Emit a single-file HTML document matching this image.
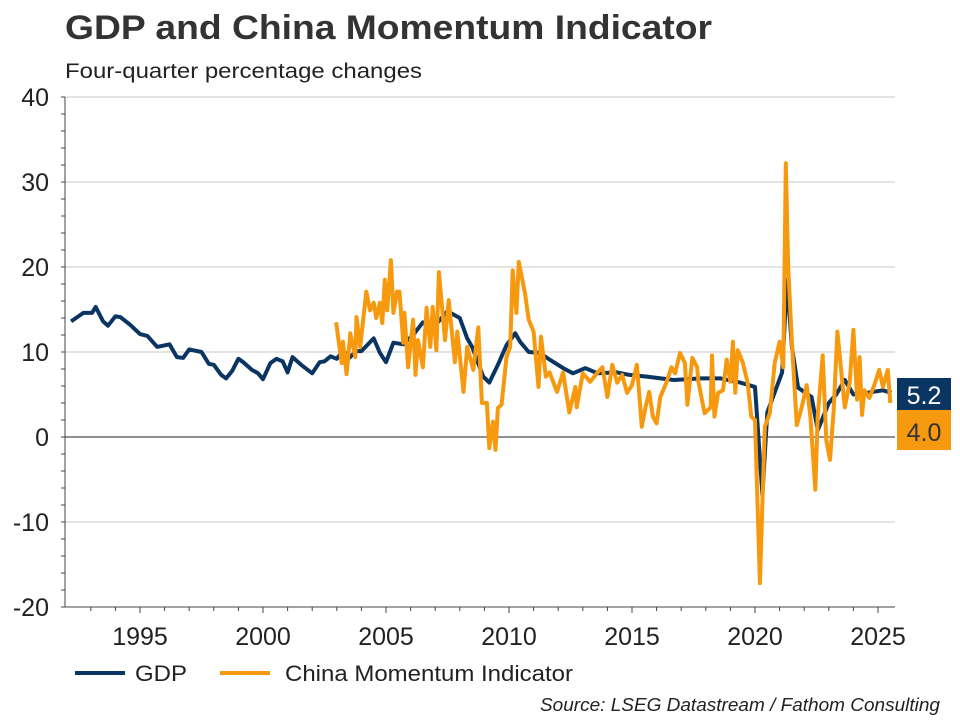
<!DOCTYPE html>
<html><head><meta charset="utf-8"><style>
body{margin:0;background:#fff;font-family:"Liberation Sans",Arial,sans-serif}
svg{display:block}
</style></head><body>
<svg width="960" height="720" viewBox="0 0 960 720">
<text x="65" y="39" font-size="34" font-weight="bold" fill="#333" textLength="647" lengthAdjust="spacingAndGlyphs">GDP and China Momentum Indicator</text>
<text x="65" y="78" font-size="21" fill="#222" textLength="357" lengthAdjust="spacingAndGlyphs">Four-quarter percentage changes</text>
<g id="grid"></g><g id="axes"></g><g id="series"></g><g id="labels"></g>
<g>
<line x1="75" y1="673" x2="125" y2="673" stroke="#0a3562" stroke-width="4"/>
<text x="135" y="681" font-size="22" fill="#222" textLength="52" lengthAdjust="spacingAndGlyphs">GDP</text>
<line x1="220" y1="673" x2="270" y2="673" stroke="#f7990e" stroke-width="4"/>
<text x="285" y="681" font-size="22" fill="#222" textLength="288" lengthAdjust="spacingAndGlyphs">China Momentum Indicator</text>
</g>
<text x="940" y="711" font-size="18" font-style="italic" text-anchor="end" fill="#222" textLength="400" lengthAdjust="spacingAndGlyphs">Source: LSEG Datastream / Fathom Consulting</text>
</svg>
<script>
const yTicks=[-20,-10,0,10,20,30,40];
const xTicks=[1995,2000,2005,2010,2015,2020,2025];
const gdpDates=[1992.2,1992.7,1993.05,1993.2,1993.5,1993.7,1994.0,1994.2,1994.6,1995.0,1995.3,1995.7,1996.2,1996.5,1996.75,1997.0,1997.5,1997.8,1998.0,1998.3,1998.5,1998.75,1999.0,1999.2,1999.55,1999.8,2000.0,2000.3,2000.55,2000.8,2001.0,2001.2,2001.55,2002.0,2002.3,2002.5,2002.75,2003.0,2003.25,2003.5,2003.8,2004.0,2004.5,2004.75,2005.0,2005.3,2005.7,2006.1,2006.5,2006.9,2007.2,2007.5,2008.0,2008.3,2008.5,2008.95,2009.2,2009.55,2009.9,2010.25,2010.45,2010.8,2011.25,2011.65,2012.2,2012.6,2013.1,2013.6,2014.4,2014.9,2015.6,2016.7,2017.8,2018.6,2019.4,2020.0,2020.3,2020.5,2021.1,2021.3,2021.5,2021.75,2022.3,2022.55,2023.0,2023.3,2023.65,2024.0,2024.55,2025.2,2025.55];
const gdpValues=[13.6,14.6,14.6,15.3,13.6,13.1,14.2,14.1,13.2,12.1,11.9,10.6,10.9,9.4,9.3,10.3,10.0,8.6,8.5,7.3,6.9,7.8,9.2,8.8,7.9,7.5,6.8,8.7,9.2,8.9,7.6,9.4,8.5,7.5,8.8,8.9,9.5,9.2,10.2,9.3,10.1,10.1,11.6,9.9,8.8,11.1,10.9,12.0,13.5,12.8,13.8,14.8,14.0,11.6,10.6,7.1,6.4,8.5,10.8,12.2,11.2,10.0,9.9,9.1,8.1,7.5,8.1,7.5,7.6,7.3,7.1,6.7,6.9,6.9,6.4,5.9,-6.8,2.9,7.6,18.5,10.6,5.8,4.7,0.8,4.0,5.0,6.7,5.0,5.2,5.5,5.2];
const cmiDates=[2002.97,2003.2,2003.25,2003.4,2003.55,2003.75,2003.8,2003.95,2004.2,2004.35,2004.5,2004.6,2004.75,2004.85,2004.95,2005.05,2005.2,2005.3,2005.45,2005.55,2005.7,2005.75,2005.9,2006.1,2006.2,2006.3,2006.5,2006.65,2006.8,2006.9,2007.05,2007.15,2007.4,2007.55,2007.8,2007.9,2008.15,2008.3,2008.55,2008.75,2008.9,2009.1,2009.2,2009.35,2009.45,2009.55,2009.7,2009.9,2010.05,2010.15,2010.3,2010.4,2010.65,2010.8,2011.0,2011.2,2011.3,2011.5,2011.65,2011.95,2012.2,2012.45,2012.7,2012.75,2013.0,2013.3,2013.6,2013.8,2014.0,2014.2,2014.4,2014.6,2014.8,2015.0,2015.2,2015.4,2015.55,2015.7,2015.85,2016.0,2016.15,2016.4,2016.6,2016.75,2016.95,2017.15,2017.25,2017.45,2017.65,2017.7,2017.95,2018.2,2018.25,2018.35,2018.5,2018.7,2018.85,2019.0,2019.1,2019.2,2019.3,2019.5,2019.7,2019.85,2020.0,2020.2,2020.4,2020.6,2020.8,2021.0,2021.15,2021.25,2021.35,2021.5,2021.7,2021.9,2022.1,2022.25,2022.45,2022.55,2022.75,2022.9,2023.05,2023.2,2023.35,2023.55,2023.65,2023.85,2024.0,2024.15,2024.25,2024.35,2024.45,2024.65,2024.85,2025.05,2025.2,2025.4,2025.5];
const cmiValues=[13.5,8.7,11.2,7.4,12.2,9.4,14.1,10.6,17.1,14.9,15.8,14.0,15.8,13.4,18.5,14.9,20.8,14.6,17.1,17.1,11.1,14.6,8.2,13.8,7.3,11.4,8.2,15.2,10.6,15.3,10.2,19.4,11.4,16.1,8.8,12.4,5.3,10.6,7.9,12.9,4.0,4.0,-1.3,1.8,-1.5,3.4,3.8,9.4,10.6,19.6,14.6,20.6,16.9,13.8,12.4,5.9,11.8,7.1,7.6,5.3,7.6,2.9,5.9,3.5,7.5,6.5,7.6,8.2,4.7,8.5,6.4,7.3,5.2,6.1,8.5,1.2,3.5,5.3,2.4,1.6,4.7,6.4,8.2,7.5,9.9,8.7,3.8,9.3,8.2,6.5,2.8,3.5,9.6,2.4,5.2,5.5,9.1,6.5,11.2,5.2,10.2,8.8,6.4,2.4,2.0,-17.2,1.2,2.8,8.7,11.2,8.2,32.2,20.0,11.1,1.4,3.5,6.1,2.4,-6.2,2.4,9.6,-0.4,-2.7,3.2,12.4,6.4,3.5,6.4,12.6,4.4,9.4,2.6,5.5,4.6,6.1,7.9,5.9,7.9,4.0];
const lastGdp="5.2", lastCmi="4.0";

const NS="http://www.w3.org/2000/svg";
const L=65,R=895,T=97,B=607;
const xs=y=>140+(y-1995)*24.6;
const ys=v=>B-(v+20)/60*(B-T);
function mk(tag,attrs,parent){const e=document.createElementNS(NS,tag);for(const k in attrs)e.setAttribute(k,attrs[k]);document.getElementById(parent).appendChild(e);return e;}
yTicks.forEach(v=>{
  if(v!==-20&&v!==0){const g=mk('line',{x1:L,x2:R,y1:ys(v),y2:ys(v),stroke:'#c8c8c8','stroke-width':1},'grid');
  
  }
  const t=mk('text',{x:49,y:ys(v)+9,'font-size':25,'text-anchor':'end',fill:'#222'},'axes');t.textContent=v;
  
  
});
for(let v=-20;v<=40;v+=2){const m=mk('line',{x1:L-4,x2:L,y1:ys(v),y2:ys(v),stroke:'#444'},'axes');

}
for(let y=1993;y<=2025;y++){const m=mk('line',{x1:xs(y),x2:xs(y),y1:B,y2:B+(y%5===0?6:4),stroke:'#444'},'axes');

}
xTicks.forEach(y=>{const t=mk('text',{x:xs(y),y:645,'font-size':25,'text-anchor':'middle',fill:'#222'},'axes');t.textContent=y;

});
let a=mk('line',{x1:L,x2:L,y1:T,y2:B,stroke:'#444','stroke-width':1},'axes');


a=mk('line',{x1:L,x2:R,y1:B,y2:B,stroke:'#444','stroke-width':1},'axes');


a=mk('line',{x1:L,x2:R,y1:ys(0),y2:ys(0),stroke:'#222','stroke-width':1},'axes');


function path(d,v){return d.map((x,i)=>(i?'L':'M')+xs(x).toFixed(1)+','+ys(v[i]).toFixed(1)).join('');}
let p=mk('path',{d:path(gdpDates,gdpValues),fill:'none',stroke:'#0a3562','stroke-width':4,'stroke-linejoin':'round'},'series');


p=mk('path',{d:path(cmiDates,cmiValues),fill:'none',stroke:'#f7990e','stroke-width':4,'stroke-linejoin':'round'},'series');


let r=mk('rect',{x:897,y:378,width:54,height:32,fill:'#0a3562'},'labels');


let t=mk('text',{x:924,y:404,'font-size':25,'text-anchor':'middle',fill:'#fff'},'labels');t.textContent=lastGdp;


r=mk('rect',{x:897,y:410,width:54,height:40,fill:'#f7990e'},'labels');


t=mk('text',{x:924,y:441,'font-size':25,'text-anchor':'middle',fill:'#333'},'labels');t.textContent=lastCmi;


</script>
</body></html>
